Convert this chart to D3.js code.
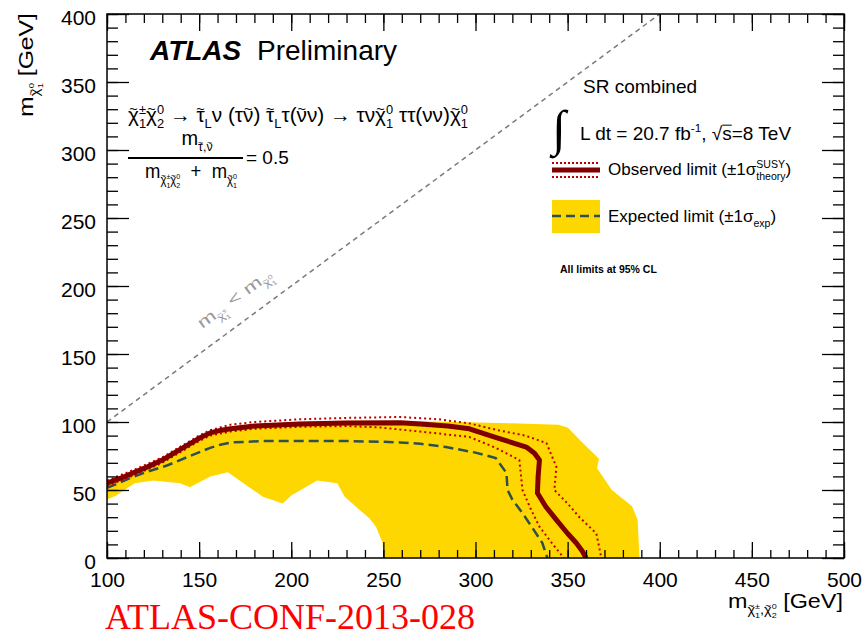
<!DOCTYPE html>
<html>
<head>
<meta charset="utf-8">
<script src="https://cdn.jsdelivr.net/npm/d3@7"></script>
<style>
  body { margin: 0; background: #fff; }
</style>
</head>
<body>
<div id="chart"></div>
<script>
// ATLAS chargino-neutralino -> stau exclusion plot, redrawn with D3

const width = 865;
const height = 636;
const margin = ({ top: 14, right: 21, bottom: 78, left: 107 });
const sans = "Liberation Sans, Arial, Helvetica, sans-serif";

// Axis ticks (GeV)
const xMajor = [100, 150, 200, 250, 300, 350, 400, 450, 500];
const yMajor = [0, 50, 100, 150, 200, 250, 300, 350, 400];
const xMinor = d3.range(100, 501, 10);
const yMinor = d3.range(0, 401, 10);

// Expected +-1 sigma band: upper edge, then lower edge
const bandUpper = [[100, 56], [110, 61], [120, 67], [130, 74], [140, 82], [150, 89], [155, 92],
  [165, 96], [180, 98], [200, 100], [230, 101], [260, 101], [290, 100], [320, 99], [345, 98],
  [350, 96], [358, 85], [367, 73], [366, 66], [374, 50], [385, 38], [388, 28], [389, 0]];
const bandLower = [[250, 0], [249.6, 11], [246, 23], [242.5, 29], [229, 45], [225, 55], [214, 57],
  [200, 46], [195.4, 40], [184.6, 45], [165.6, 63], [156, 60], [145, 52], [139.6, 55], [125, 57],
  [115, 55], [105, 46], [100, 43]];

// Expected limit (dashed)
const expected = [[100, 51.5], [107, 55.5], [114, 59.6], [122, 63.5], [132.5, 68], [145, 75],
  [156, 81], [162, 83.5], [168, 85], [185, 86], [204.6, 86], [230, 86], [248, 85.5], [259, 85],
  [270, 84], [284, 81.6], [300, 77.5], [311, 73.5], [316.8, 62.5], [317.4, 50], [320, 43],
  [325.5, 33], [331, 22], [336.3, 11], [339, 0]];

// Observed limit and its +-1 sigma theory lines
const observed = [[100, 55], [107, 58.5], [114, 62.5], [122, 67], [130, 72], [140, 80], [150, 88],
  [156, 92], [162, 94], [167, 95], [180, 97], [204.6, 98.5], [230, 99.3], [259, 99.5], [270, 98.5],
  [285, 97], [296.7, 95], [310, 89], [327.6, 81.6], [332, 77], [334.7, 72], [334, 60], [333.6, 47.8],
  [338, 38], [343.9, 28], [350, 18], [354.7, 11], [358, 5], [360, 0]];
const observedUp = [[100, 57], [114, 64.5], [130, 74], [140, 82], [150, 90], [156, 94], [167, 98],
  [180, 100], [204.6, 102], [230, 103], [259, 103.7], [280, 102], [296.7, 99], [312, 94], [327, 90],
  [338.5, 84.5], [343.9, 67], [342.8, 50], [350, 40], [356.4, 30], [365.6, 18], [368.3, 0]];
const observedDown = [[100, 53], [114, 60.5], [130, 70], [140, 78], [150, 86], [156, 90], [167, 93],
  [180, 95], [204.6, 96.5], [230, 97], [248, 96], [270, 93], [296.7, 89], [311, 81], [323.8, 72],
  [325.5, 50], [330, 36], [334.7, 23], [342, 10], [348, 0]];

// Kinematic boundary m(chi1+-) = m(chi1^0)
const diagonal = [[100, 100], [400, 400]];

const colors = ({
  band: "#ffd700",
  observed: "#800000",
  sigma: "#c00000",
  expected: "#2f4f4f",
  diag: "#7a7a7a"
});

const chi = "\u03c7";
const tau = "\u03c4";
const nu = "\u03bd";
const sp = "\u00a0"; // spaces that SVG will not collapse

const svg = d3.select("#chart").append("svg")
  .attr("width", width)
  .attr("height", height);

svg.append("rect").attr("width", width).attr("height", height).attr("fill", "#fff");

const x = d3.scaleLinear().domain([100, 500]).range([margin.left, width - margin.right]);
const y = d3.scaleLinear().domain([0, 400]).range([height - margin.bottom, margin.top]);

// Little helper for ROOT-style text with tildes and stacked sub/superscripts
function rich(g, x0, y0, parts, size, fill) {
  let cx = x0;
  parts.forEach(p => {
    if (typeof p === "string") p = { b: p };
    let w = 0;
    if (p.b) {
      const t = g.append("text").attr("x", cx).attr("y", y0)
        .style("font-family", sans)
        .attr("font-size", size).attr("fill", fill).text(p.b);
      w = t.node().getComputedTextLength();
      if (p.over) {
        g.append("line").attr("x1", cx).attr("x2", cx + w)
          .attr("y1", y0 - size * 0.78).attr("y2", y0 - size * 0.78)
          .attr("stroke", fill).attr("stroke-width", 1);
      }
      if (p.tilde) {
        g.append("text").attr("x", cx + w / 2).attr("y", y0 - size * 0.42)
          .style("font-family", sans).attr("text-anchor", "middle")
          .attr("font-size", size * 0.7).attr("fill", fill).text("~");
      }
    }
    let ws = 0;
    if (p.sup) ws = Math.max(ws, rich(g, cx + w, y0 - size * 0.42, [].concat(p.sup), size * 0.62, fill));
    if (p.sub) ws = Math.max(ws, rich(g, cx + w, y0 + size * 0.3, [].concat(p.sub), size * 0.62, fill));
    cx += w + ws;
  });
  return cx - x0;
}
function richAt(parent, x0, y0, parts, size, opts) {
  opts = opts || {};
  const g = parent.append("g");
  const w = rich(g, 0, 0, parts, size, opts.fill || "#000");
  const sx = opts.fit ? opts.fit / w : 1;
  const ww = w * sx;
  const dx = opts.anchor === "end" ? -ww : opts.anchor === "middle" ? -ww / 2 : 0;
  const r = (opts.rotate || 0) * Math.PI / 180;
  g.attr("transform", `translate(${x0 + dx * Math.cos(r)},${y0 + dx * Math.sin(r)}) rotate(${opts.rotate || 0}) scale(${sx},1)`);
  return ww;
}

// Plot contents, clipped to the frame
svg.append("clipPath").attr("id", "plotClip")
  .append("rect")
  .attr("x", x(100)).attr("y", y(400))
  .attr("width", x(500) - x(100)).attr("height", y(0) - y(400));

const plot = svg.append("g").attr("clip-path", "url(#plotClip)");
const line = d3.line().x(d => x(d[0])).y(d => y(d[1]));

plot.append("path")
  .attr("d", line(bandUpper.concat(bandLower)) + "Z")
  .attr("fill", colors.band);

plot.append("path").attr("d", line(expected))
  .attr("fill", "none").attr("stroke", colors.expected)
  .attr("stroke-width", 2.5).attr("stroke-dasharray", "10,5");

[observedUp, observedDown].forEach(s => {
  plot.append("path").attr("d", line(s))
    .attr("fill", "none").attr("stroke", colors.sigma)
    .attr("stroke-width", 2).attr("stroke-dasharray", "2,3");
});

plot.append("path").attr("d", line(observed))
  .attr("fill", "none").attr("stroke", colors.observed)
  .attr("stroke-width", 5).attr("stroke-linejoin", "round");

plot.append("path").attr("d", line(diagonal))
  .attr("fill", "none").attr("stroke", colors.diag)
  .attr("stroke-width", 1.5).attr("stroke-dasharray", "5,4");

// Axes: ticks point inwards on all four sides
function styleAxis(g) {
  g.select(".domain").remove();
  g.selectAll(".tick line").attr("stroke", "#000").attr("stroke-width", 1.3);
  g.selectAll("text").attr("font-size", 21).attr("fill", "#000")
    .style("font-family", sans);
}
const bottomY = y(0), topY = y(400), leftX = x(100), rightX = x(500);

svg.append("g").attr("transform", `translate(0,${bottomY})`)
  .call(d3.axisBottom(x).tickValues(xMinor).tickSize(-8).tickFormat(""))
  .call(styleAxis);
svg.append("g").attr("transform", `translate(0,${bottomY})`)
  .call(d3.axisBottom(x).tickValues(xMajor).tickSize(-16).tickPadding(14).tickFormat(d3.format("d")))
  .call(styleAxis);
svg.append("g").attr("transform", `translate(0,${topY})`)
  .call(d3.axisTop(x).tickValues(xMinor).tickSize(-9).tickFormat(""))
  .call(styleAxis);
svg.append("g").attr("transform", `translate(0,${topY})`)
  .call(d3.axisTop(x).tickValues(xMajor).tickSize(-17).tickFormat(""))
  .call(styleAxis);
svg.append("g").attr("transform", `translate(${leftX},0)`)
  .call(d3.axisLeft(y).tickValues(yMinor).tickSize(-11).tickFormat(""))
  .call(styleAxis);
svg.append("g").attr("transform", `translate(${leftX},0)`)
  .call(d3.axisLeft(y).tickValues(yMajor).tickSize(-22).tickPadding(11).tickFormat(d3.format("d")))
  .call(styleAxis)
  .selectAll("text").attr("dy", "0.5em");
svg.append("g").attr("transform", `translate(${rightX},0)`)
  .call(d3.axisRight(y).tickValues(yMinor).tickSize(-11).tickFormat(""))
  .call(styleAxis);
svg.append("g").attr("transform", `translate(${rightX},0)`)
  .call(d3.axisRight(y).tickValues(yMajor).tickSize(-22).tickFormat(""))
  .call(styleAxis);

svg.append("rect")
  .attr("x", leftX).attr("y", topY)
  .attr("width", rightX - leftX).attr("height", bottomY - topY)
  .attr("fill", "none").attr("stroke", "#000").attr("stroke-width", 1.5);

// Axis titles
richAt(svg, 33, 117, [{ b: "m", sub: [{ b: chi, tilde: true, sub: "1", sup: "0" }] }, sp + "[GeV]"], 21,
  { rotate: -90, fit: 104 });
richAt(svg, 843, 608, [{ b: "m", sub: [{ b: chi, tilde: true, sub: "1", sup: "\u00b1" }, ",",
  { b: chi, tilde: true, sub: "2", sup: "0" }] }, sp + "[GeV]"], 21, { anchor: "end", fit: 115 });

// Diagonal label
const ang = Math.atan2(y(200) - y(100), x(200) - x(100)) * 180 / Math.PI;
richAt(svg, x(150) + 3, y(150) - 25,
  [{ b: "m", sub: [{ b: chi, tilde: true, sub: "1", sup: "\u00b1" }] }, sp + "<" + sp,
   { b: "m", sub: [{ b: chi, tilde: true, sub: "1", sup: "0" }] }],
  16, { rotate: ang, fill: "#999", fit: 88 });

// ATLAS label and process
svg.append("text").attr("x", 150).attr("y", 60).style("font-family", sans)
  .attr("font-size", 28).attr("font-weight", "bold").attr("font-style", "italic")
  .text("ATLAS");
svg.append("text").attr("x", 257).attr("y", 60).style("font-family", sans)
  .attr("font-size", 28).text("Preliminary");

richAt(svg, 128, 122, [
  { b: chi, tilde: true, sub: "1", sup: "\u00b1" }, { b: chi, tilde: true, sub: "2", sup: "0" },
  sp + "\u2192" + sp, { b: tau, tilde: true, sub: "L" }, nu + sp + "(" + tau, { b: nu, tilde: true }, ")" + sp,
  { b: tau, tilde: true, sub: "L" }, tau + "(", { b: nu, tilde: true }, nu + ")" + sp + "\u2192" + sp + tau + nu,
  { b: chi, tilde: true, sub: "1", sup: "0" }, sp + tau + tau + "(" + nu + nu + ")",
  { b: chi, tilde: true, sub: "1", sup: "0" }
], 20, { fit: 340 });

richAt(svg, 197, 145, [{ b: "m", sub: [{ b: tau, tilde: true }, ",", { b: nu, tilde: true }] }], 20,
  { anchor: "middle" });
svg.append("line").attr("x1", 128).attr("x2", 243).attr("y1", 158).attr("y2", 158)
  .attr("stroke", "#000").attr("stroke-width", 2.2);
svg.append("text").attr("x", 246).attr("y", 164).style("font-family", sans)
  .attr("font-size", 19).text("= 0.5");
richAt(svg, 145, 178, [
  { b: "m", sub: [{ b: chi, tilde: true, sub: "1", sup: "\u00b1" }, { b: chi, tilde: true, sub: "2", sup: "0" }] },
  sp + sp + "+" + sp + sp, { b: "m", sub: [{ b: chi, tilde: true, sub: "1", sup: "0" }] }
], 20, { fit: 92 });

// Legend
svg.append("text").attr("x", 583).attr("y", 93).style("font-family", sans)
  .attr("font-size", 19).text("SR combined");
svg.append("text").attr("x", 552).attr("y", 145).attr("font-size", 50)
  .style("font-family", "Liberation Serif, serif").text("\u222b");
richAt(svg, 580, 140, ["L dt = 20.7 fb", { sup: "-1" }, ", \u221a", { b: "s", over: true }, "=8 TeV"], 19);

svg.append("line").attr("x1", 552).attr("x2", 600).attr("y1", 170).attr("y2", 170)
  .attr("stroke", colors.observed).attr("stroke-width", 5);
[163, 177].forEach(v => {
  svg.append("line").attr("x1", 552).attr("x2", 600).attr("y1", v).attr("y2", v)
    .attr("stroke", colors.sigma).attr("stroke-width", 2).attr("stroke-dasharray", "2,2");
});
richAt(svg, 608, 175, ["Observed limit (\u00b11", { b: "\u03c3", sup: "SUSY", sub: "theory" }, ")"], 17);

svg.append("rect").attr("x", 552).attr("y", 200).attr("width", 48).attr("height", 33)
  .attr("fill", colors.band);
svg.append("line").attr("x1", 552).attr("x2", 600).attr("y1", 216).attr("y2", 216)
  .attr("stroke", colors.expected).attr("stroke-width", 2.5).attr("stroke-dasharray", "9,5");
richAt(svg, 608, 222, ["Expected limit (\u00b11", { b: "\u03c3", sub: "exp" }, ")"], 17);

svg.append("text").attr("x", 560).attr("y", 273).style("font-family", sans)
  .attr("font-size", 10.5).attr("font-weight", "bold")
  .text("All limits at 95% CL");

// Conference note reference
svg.append("text").attr("x", 105).attr("y", 629)
  .style("font-family", "Liberation Serif, Times New Roman, serif")
  .attr("font-size", 36).attr("fill", "#ff0000")
  .text("ATLAS-CONF-2013-028");
</script>
</body>
</html>
